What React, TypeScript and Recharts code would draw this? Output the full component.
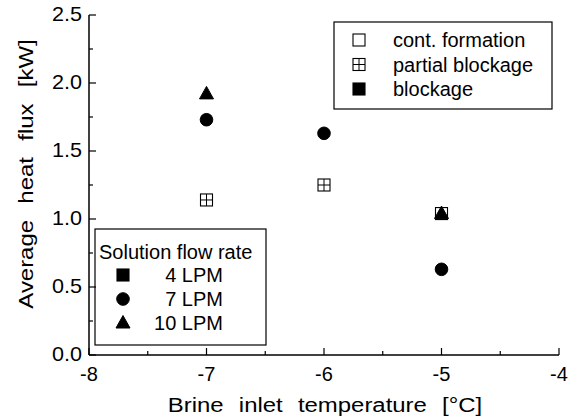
import React from 'react';
import { ScatterChart, Scatter, XAxis, YAxis, Customized } from 'recharts';

// ---- data ----
const xTicks = [-8, -7.5, -7, -6.5, -6, -5.5, -5, -4.5, -4];
const yTicks = [0, 0.25, 0.5, 0.75, 1.0, 1.25, 1.5, 1.75, 2.0, 2.25, 2.5];

const temps4 = [-7, -6, -5];
const flux4 = [1.14, 1.25, 1.04];
const status4 = ['partial', 'partial', 'cont'];

const temps7 = [-7, -6, -5];
const flux7 = [1.73, 1.63, 0.63];
const status7 = ['blockage', 'blockage', 'blockage'];

const temps10 = [-7, -5];
const flux10 = [1.92, 1.04];
const status10 = ['blockage', 'blockage'];

const statusLabels = ['cont. formation', 'partial blockage', 'blockage'];
const statusKeys = ['cont', 'partial', 'blockage'];
const flowTitle = 'Solution flow rate';
const flowLabels = ['4 LPM', '7 LPM', '10 LPM'];
const flowShapes = ['square', 'circle', 'triangle'];

const xTitle = 'Brine inlet temperature [°C]';
const yTitle = 'Average heat flux [kW]';

const build = (t: number[], f: number[], s: string[]) =>
  t.map((x, i) => ({ x, y: f[i], status: s[i] }));

const data4 = build(temps4, flux4, status4);
const data7 = build(temps7, flux7, status7);
const data10 = build(temps10, flux10, status10);

const FONT = '"Liberation Sans", Arial, Helvetica, sans-serif';
const M = 10;

function Marker({ shape, status, cx, cy }: any) {
  const fill = status === 'blockage' ? '#000' : '#fff';
  if (shape === 'circle') {
    return <circle cx={cx} cy={cy} r={6.3} fill={fill} stroke="#000" strokeWidth={1} />;
  }
  if (shape === 'triangle') {
    const w = 14, h = 12.5;
    return (
      <polygon
        points={`${cx},${cy - h * 0.6} ${cx + w / 2},${cy + h * 0.4} ${cx - w / 2},${cy + h * 0.4}`}
        fill={fill}
        stroke="#000"
        strokeWidth={1}
      />
    );
  }
  const s = 12;
  return (
    <g>
      <rect x={cx - s / 2} y={cy - s / 2} width={s} height={s} fill={fill} stroke="#000" strokeWidth={1.1} />
      {status === 'partial' && (
        <g stroke="#000" strokeWidth={1}>
          <line x1={cx} x2={cx} y1={cy - s / 2} y2={cy + s / 2} />
          <line x1={cx - s / 2} x2={cx + s / 2} y1={cy} y2={cy} />
        </g>
      )}
    </g>
  );
}

const mkShape = (shape: string) => (props: any) =>
  <Marker shape={shape} status={props.payload.status} cx={props.cx} cy={props.cy} />;

const XTickBottom = (props: any) => {
  const { x, y, payload } = props;
  const v = payload.value;
  const axisY = y - M;
  const major = Number.isInteger(v);
  return (
    <g>
      <line x1={x} x2={x} y1={axisY} y2={axisY - (major ? 7 : 4)} stroke="#000" strokeWidth={1.2} />
      {major && (
        <text x={x} y={axisY + 26} textAnchor="middle" fontSize={20} fontFamily={FONT} fill="#000">
          {String(v)}
        </text>
      )}
    </g>
  );
};

const XTickTop = (props: any) => {
  const { x, y, payload } = props;
  const major = Number.isInteger(payload.value);
  return <line x1={x} x2={x} y1={y} y2={y + (major ? 7 : 4)} stroke="#000" strokeWidth={1.2} />;
};

const YTickLeft = (props: any) => {
  const { x, y, payload } = props;
  const v = payload.value;
  const axisX = x + M;
  const major = Math.abs(v * 2 - Math.round(v * 2)) < 1e-6;
  return (
    <g>
      <line x1={axisX} x2={axisX + (major ? 7 : 4)} y1={y} y2={y} stroke="#000" strokeWidth={1.2} />
      {major && (
        <text
          x={0}
          y={0}
          transform={`translate(${axisX - 7},${y + 6}) scale(1.08,1)`}
          textAnchor="end"
          fontSize={20}
          fontFamily={FONT}
          fill="#000"
        >
          {v.toFixed(1)}
        </text>
      )}
    </g>
  );
};

const YTickRight = (props: any) => {
  const { x, y, payload } = props;
  const v = payload.value;
  const major = Math.abs(v * 2 - Math.round(v * 2)) < 1e-6;
  return <line x1={x} x2={x - (major ? 7 : 4)} y1={y} y2={y} stroke="#000" strokeWidth={1.2} />;
};

const Overlay = () => {
  const txt = { fontFamily: FONT, fill: '#000' } as any;
  return (
    <g>
      {/* axis titles */}
      <text
        x={0}
        y={0}
        transform="translate(325,412) scale(1.14,1)"
        textAnchor="middle"
        fontSize={21}
        style={{ wordSpacing: '7.5px' }}
        {...txt}
      >
        {xTitle}
      </text>
      <text
        x={0}
        y={0}
        transform="translate(33,174) rotate(-90) scale(1.14,1)"
        textAnchor="middle"
        fontSize={21}
        style={{ wordSpacing: '8.5px' }}
        {...txt}
      >
        {yTitle}
      </text>

      {/* status legend */}
      <rect x={334} y={22} width={218} height={87} fill="#fff" stroke="#000" strokeWidth={1.2} />
      {statusLabels.map((lab, i) => (
        <g key={lab}>
          <Marker shape="square" status={statusKeys[i]} cx={359} cy={40 + i * 24.5} />
          <text x={393} y={40 + i * 24.5 + 7} fontSize={20} {...txt}>
            {lab}
          </text>
        </g>
      ))}

      {/* flow legend */}
      <rect x={95} y={229} width={171} height={116} fill="#fff" stroke="#000" strokeWidth={1.2} />
      <text x={99} y={259} fontSize={20} {...txt}>
        {flowTitle}
      </text>
      {flowLabels.map((lab, i) => (
        <g key={lab}>
          <Marker shape={flowShapes[i]} status="blockage" cx={123} cy={275 + i * 24} />
          <text x={223} y={275 + i * 24 + 7} textAnchor="end" fontSize={20} {...txt}>
            {lab}
          </text>
        </g>
      ))}
    </g>
  );
};

export default function App() {
  return (
    <div style={{ position: 'absolute', left: 0, top: 0, width: 571, height: 418, background: '#fff' }}>
      <ScatterChart width={571} height={418} margin={{ top: 15, right: 12, bottom: 0, left: 0 }}>
        <XAxis
          type="number"
          dataKey="x"
          domain={[-8, -4]}
          ticks={xTicks}
          interval={0}
          height={63}
          tickSize={0}
          tickMargin={M}
          tick={<XTickBottom />}
          axisLine={{ stroke: '#000', strokeWidth: 1.5 }}
          tickLine={false}
          allowDataOverflow
        />
        <XAxis
          xAxisId="top"
          orientation="top"
          type="number"
          dataKey="x"
          domain={[-8, -4]}
          ticks={xTicks}
          interval={0}
          height={0}
          tickSize={0}
          tickMargin={0}
          tick={<XTickTop />}
          axisLine={{ stroke: '#000', strokeWidth: 1.5 }}
          tickLine={false}
          allowDataOverflow
        />
        <YAxis
          type="number"
          dataKey="y"
          domain={[0, 2.5]}
          ticks={yTicks}
          interval={0}
          width={89}
          tickSize={0}
          tickMargin={M}
          tick={<YTickLeft />}
          axisLine={{ stroke: '#000', strokeWidth: 1.5 }}
          tickLine={false}
          allowDataOverflow
        />
        <YAxis
          yAxisId="right"
          orientation="right"
          type="number"
          dataKey="y"
          domain={[0, 2.5]}
          ticks={yTicks}
          interval={0}
          width={0}
          tickSize={0}
          tickMargin={0}
          tick={<YTickRight />}
          axisLine={{ stroke: '#000', strokeWidth: 1.5 }}
          tickLine={false}
          allowDataOverflow
        />
        <Scatter name="4 LPM" data={data4} shape={mkShape('square')} isAnimationActive={false} />
        <Scatter name="7 LPM" data={data7} shape={mkShape('circle')} isAnimationActive={false} />
        <Scatter name="10 LPM" data={data10} shape={mkShape('triangle')} isAnimationActive={false} />
        <Customized component={<Overlay />} />
      </ScatterChart>
    </div>
  );
}
